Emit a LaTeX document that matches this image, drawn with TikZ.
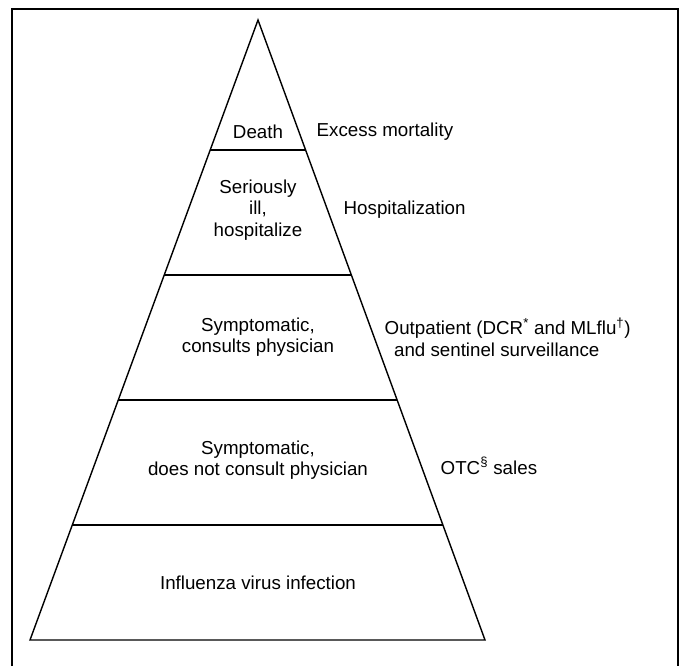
\documentclass[tikz,border=0pt]{standalone}
\usepackage{fontspec}
\setmainfont{Liberation Sans}
\usetikzlibrary{calc}

\begin{document}
\begin{tikzpicture}[x=0.03cm, y=-0.03cm, line width=1.2pt,
		font=\fontsize{16}{18.5}\selectfont,
		tier/.style={align=center, inner sep=0pt},
		source/.style={anchor=west, align=left, inner sep=0pt}]
		\useasboundingbox (0,0) rectangle (683,669);
		% open frame (bottom edge not printed)
		\draw[line width=1.6pt] (12,666) -- (12,9) -- (678,9) -- (678,666);
		% the pyramid
		\coordinate (apex) at (258,20);
		\coordinate (bl) at (30,640);
		\coordinate (br) at (485,640);
		\draw (apex) -- (bl) -- (br) -- cycle;
		\foreach \i/\t in {1/0.2097, 2/0.4113, 3/0.6129, 4/0.8145} {
			\coordinate (l\i) at ($(apex)!\t!(bl)$);
			\coordinate (r\i) at ($(apex)!\t!(br)$);
			\draw (l\i) -- (r\i);
		}
		% tiers
		\node[tier] (death) at (258,132) {Death};
		\node[tier] (ill) at (258,210) {Seriously\\ill,\\hospitalize};
		\node[tier] (consult) at (258,337) {Symptomatic,\\consults physician};
		\node[tier] (noconsult) at (258,460) {Symptomatic,\\does not consult physician};
		\node[tier] (infect) at (258,583) {Influenza virus infection};
		% surveillance sources
		\node[source] (mort) at (316,132) {Excess mortality};
		\node[source] (hosp) at (343,210) {Hospitalization};
		\node[source] (outp) at (384,337) {Outpatient (DCR\textsuperscript{*} and MLflu\textsuperscript{\textdagger})\\\hspace{8pt}and sentinel surveillance};
		\node[source] (otc) at (440,466) {OTC\textsuperscript{\S} sales};
	\end{tikzpicture}
\end{document}
